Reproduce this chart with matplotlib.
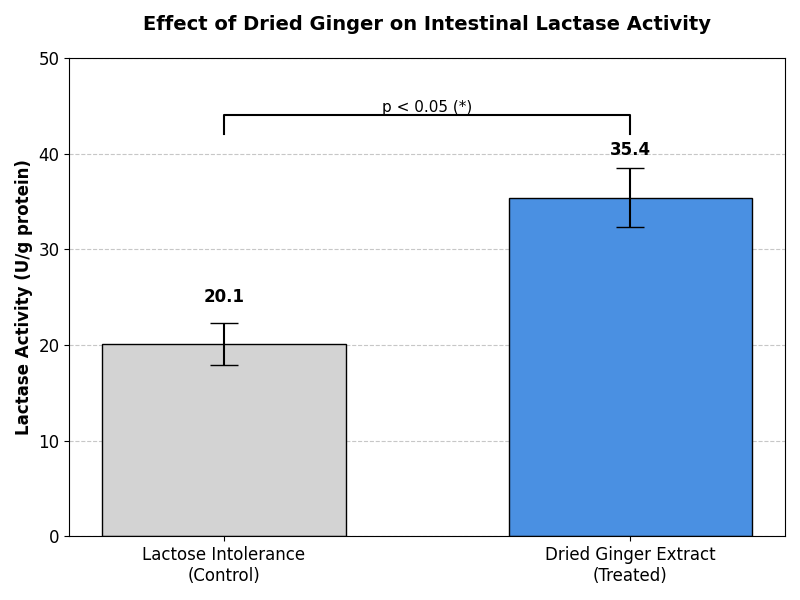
import matplotlib
matplotlib.use("Agg")
import matplotlib.pyplot as plt

groups = ["Lactose Intolerance\n(Control)", "Dried Ginger Extract\n(Treated)"]
means = [20.1, 35.4]
errors = [2.2, 3.1]
colors = ["#d3d3d3", "#4a90e2"]


def main():
    fig, ax = plt.subplots(figsize=(8, 6), dpi=100)

    x = range(len(groups))
    ax.bar(x, means, yerr=errors, width=0.6, color=colors, edgecolor="black",
           linewidth=1, capsize=10, error_kw={"elinewidth": 1.5, "capthick": 1})

    # value labels above the error bars
    for i, m in enumerate(means):
        ax.text(i, m + 4, f"{m:.1f}", ha="center", va="bottom",
                fontsize=12, fontweight="bold")

    # significance bracket
    ax.plot([0, 0, 1, 1], [42, 44, 44, 42], color="black", linewidth=1.5)
    ax.text(0.5, 44, "p < 0.05 (*)", ha="center", va="bottom", fontsize=11)

    ax.set_xticks(list(x))
    ax.set_xticklabels(groups, fontsize=12)
    ax.tick_params(axis="y", labelsize=12)
    ax.set_ylim(0, 50)
    ax.set_ylabel("Lactase Activity (U/g protein)", fontsize=12, fontweight="bold")
    ax.set_title("Effect of Dried Ginger on Intestinal Lactase Activity",
                 fontsize=14, fontweight="bold", pad=20)
    ax.yaxis.grid(True, linestyle="--", alpha=0.7)
    ax.set_axisbelow(True)

    plt.tight_layout()
    plt.savefig("out.png")


if __name__ == "__main__":
    main()
